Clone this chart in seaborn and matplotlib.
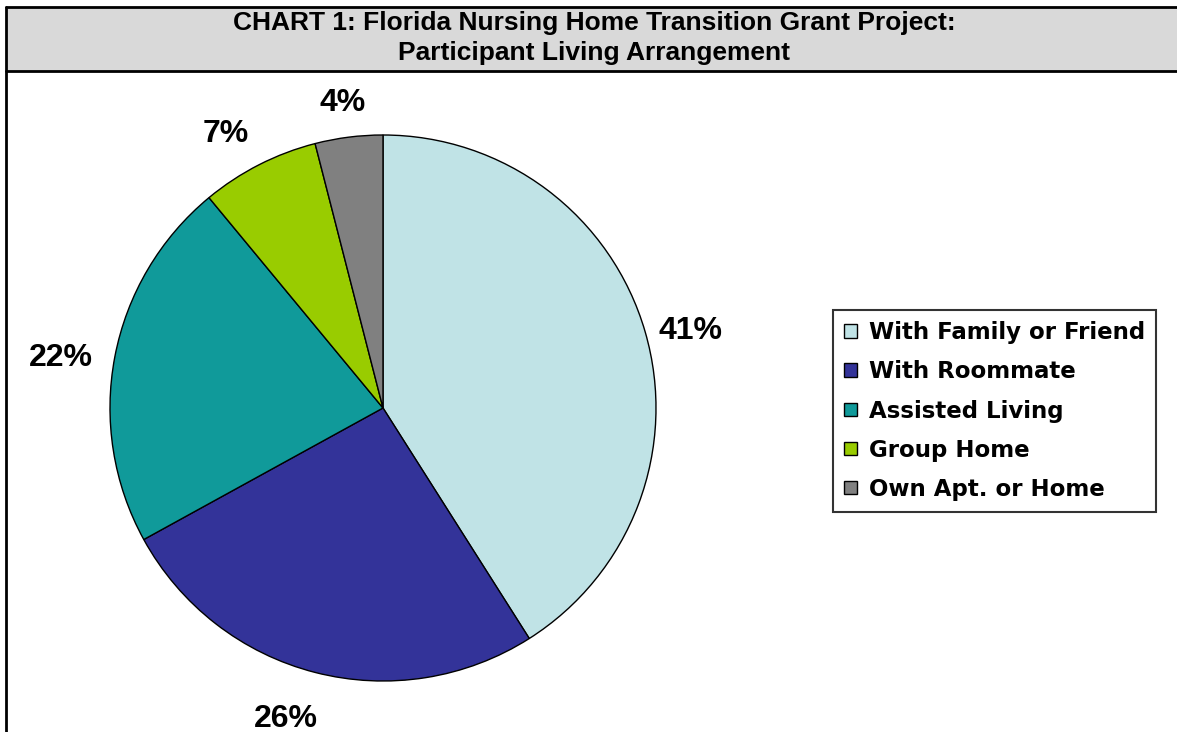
import matplotlib
matplotlib.use('Agg')
import matplotlib.pyplot as plt
import seaborn as sns
from matplotlib.patches import Rectangle
from matplotlib.lines import Line2D

# 資料
categories = ['With Family or Friend', 'With Roommate', 'Assisted Living',
              'Group Home', 'Own Apt. or Home']
shares = [41, 26, 22, 7, 4]
colors = ['#c0e3e6', '#333399', '#109a9a', '#99cc00', '#808080']
title_lines = ['CHART 1: Florida Nursing Home Transition Grant Project:',
               'Participant Living Arrangement']

sns.set_style('white')
plt.rcParams['font.family'] = ['Liberation Sans', 'DejaVu Sans']
plt.rcParams['text.color'] = 'black'

W, H = 1177, 732
fig = plt.figure(figsize=(W / 100, H / 100), dpi=100)

# 標題框
bg = fig.add_axes([0, 0, 1, 1])
bg.set_xlim(0, W)
bg.set_ylim(H, 0)
bg.axis('off')
bg.add_patch(Rectangle((6, 7), W, 64, facecolor='#d9d9d9', edgecolor='none'))
bg.add_line(Line2D([6, W], [7, 7], color='black', lw=2))
bg.add_line(Line2D([6, W], [71, 71], color='black', lw=2))
bg.add_line(Line2D([6, 6], [7, H], color='black', lw=2))
for i, line in enumerate(title_lines):
    bg.text(594, 23 + 30 * i, line, ha='center', va='center', color='black',
            fontsize=19, fontweight='bold')

# 圓餅圖
cx, cy, r = 383, 408, 273
ax = fig.add_axes([(cx - r) / W, (H - cy - r) / H, 2 * r / W, 2 * r / H])
wedges, texts, autotexts = ax.pie(
    shares, colors=colors, startangle=90, counterclock=False,
    autopct='%d%%', pctdistance=1.17,
    wedgeprops=dict(edgecolor='black', linewidth=1),
    textprops=dict(fontsize=23, fontweight='bold', color='black'))
# 百分比標籤微調位置
nudges = [(0.004, -0.044), (-0.066, -0.007), (-0.029, -0.037),
          (-0.044, -0.037), (0.0, -0.044)]
for t, (dx, dy) in zip(autotexts, nudges):
    x, y = t.get_position()
    t.set_position((x + dx, y + dy))
ax.set_xlim(-1, 1)
ax.set_ylim(-1, 1)
ax.set_aspect('equal')

# 圖例
leg = fig.legend(wedges, categories, loc='upper left',
                 bbox_to_anchor=(833 / W, 1 - 310 / H),
                 frameon=True, fancybox=False, edgecolor='black',
                 handlelength=0.55, handleheight=0.55, handletextpad=0.5,
                 labelspacing=0.7, borderpad=0.5, borderaxespad=0,
                 labelcolor='black',
                 prop=dict(family='DejaVu Sans', weight='bold', size=16.5))
leg.get_frame().set_linewidth(1.5)

fig.savefig('out.png', dpi=100)
